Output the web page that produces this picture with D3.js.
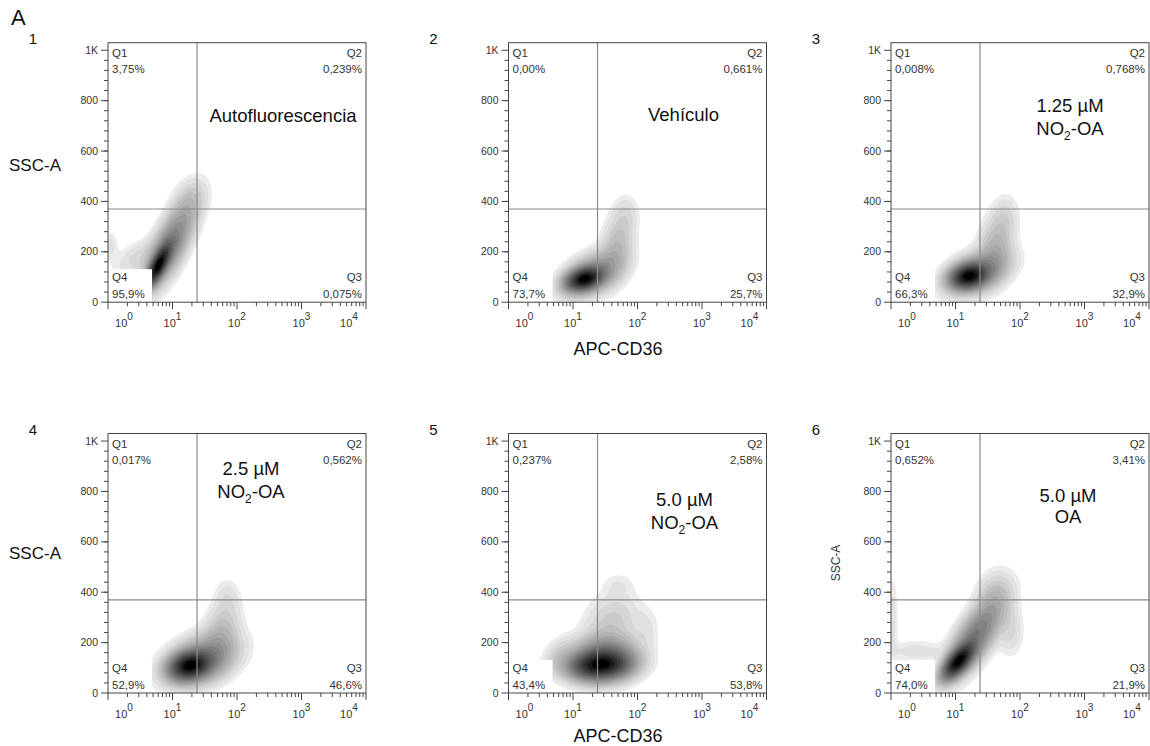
<!DOCTYPE html>
<html>
<head>
<meta charset="utf-8">
<script src="https://cdnjs.cloudflare.com/ajax/libs/d3/7.8.5/d3.min.js"></script>
<style>
body { margin: 0; background: #fff; }
svg { font-family: Arial, "Liberation Sans", sans-serif; }
</style>
</head>
<body>
<svg id="chart" width="1150" height="746"></svg>
<script>
// ---- data ----
const panelNames = ["1", "2", "3", "4", "5", "6"]
const treatments = [["Autofluorescencia"], ["Vehículo"], ["1.25 µM", "NO2-OA"], ["2.5 µM", "NO2-OA"], ["5.0 µM", "NO2-OA"], ["5.0 µM", "OA"]]
const q1Values = ["3,75%", "0,00%", "0,008%", "0,017%", "0,237%", "0,652%"]
const q2Values = ["0,239%", "0,661%", "0,768%", "0,562%", "2,58%", "3,41%"]
const q3Values = ["0,075%", "25,7%", "32,9%", "46,6%", "53,8%", "21,9%"]
const q4Values = ["95,9%", "73,7%", "66,3%", "52,9%", "43,4%", "74,0%"]

const gateApc = 24
const gateSsc = 370

const sscTicks = [0, 200, 400, 600, 800, 1000]
const sscTickLabels = ["0", "200", "400", "600", "800", "1K"]
const apcTicks = [1, 10, 100, 1000, 10000]
const apcTickExp = ["0", "1", "2", "3", "4"]

// density populations: [APC, SSC, sd (decades), sd (SSC), correlation, weight]
const blobs1 = [[6, 145, 0.11, 48, 0.75, 1], [8.9, 220, 0.22, 95, 0.72, 0.3], [17.8, 395, 0.16, 55, 0.3, 0.05], [1.1, 225, 0.07, 35, 0, 0.02], [2.8, 175, 0.22, 45, 0.5, 0.03]]
const blobs2 = [[15, 92, 0.16, 26, 0.3, 1], [20, 110, 0.26, 50, 0.45, 0.25], [48, 220, 0.15, 80, 0.3, 0.08], [66, 350, 0.12, 45, 0, 0.02]]
const blobs3 = [[16, 103, 0.16, 28, 0.2, 1], [22, 118, 0.27, 48, 0.4, 0.27], [42, 220, 0.16, 80, 0.3, 0.1], [60, 350, 0.12, 45, 0, 0.02]]
const blobs4 = [[18.5, 108, 0.18, 32, 0.2, 1], [28, 130, 0.3, 55, 0.35, 0.3], [56, 230, 0.17, 75, 0.3, 0.08], [70, 380, 0.12, 45, 0, 0.02]]
const blobs5 = [[26, 110, 0.27, 32, 0.1, 1], [30, 135, 0.28, 50, 0.1, 0.5], [40, 280, 0.25, 70, 0.2, 0.06], [140, 250, 0.12, 55, 0, 0.02], [6.3, 150, 0.15, 40, 0.3, 0.05], [50, 430, 0.15, 30, 0, 0.015]]
const blobs6 = [[11, 125, 0.14, 40, 0.65, 1], [20, 220, 0.24, 85, 0.7, 0.3], [40, 380, 0.17, 60, 0.2, 0.06], [71, 250, 0.12, 60, 0, 0.03], [2.5, 165, 0.3, 28, 0, 0.02], [1.07, 300, 0.05, 100, 0, 0.02]]
const allBlobs = [blobs1, blobs2, blobs3, blobs4, blobs5, blobs6]

// ---- layout ----
const colLeft = [108, 508.5, 891]
const rowTop = [42.7, 433.5]
const plotW = 258
const plotH = 259.5
// [center offset x, baseline line 1, baseline line 2] relative to the frame
const noteLayout = [[175, 79, 0], [175, 78, 0], [179, 69, 92], [143, 41, 64], [176, 72, 95], [177, 68, 89]]
const levelFractions = [0.006, 0.012, 0.022, 0.035, 0.05, 0.07, 0.095, 0.125, 0.16, 0.2, 0.25, 0.31, 0.38, 0.46, 0.55, 0.65, 0.76, 0.88]

const svg = d3.select("#chart")

const x = d3.scaleLog().domain([1, 10000]).range([0, plotW])
const y = d3.scaleLinear().domain([0, 1030]).range([plotH, 0])

// light grey for the outer level down to black at the peak
const grey = i => {
    const t = i / (levelFractions.length - 1)
    const v = Math.round(236 * Math.pow(1 - t, 0.8))
    return d3.rgb(v, v, v).formatHex()
}

function densityGrid(blobs) {
    const nx = Math.round(plotW), ny = Math.round(plotH)
    const values = new Float64Array(nx * ny)
    const pre = blobs.map(b => [Math.log10(b[0]), b[1], b[2], b[3], b[4], b[5]])
    for (let j = 0; j < ny; j++) {
        const ssc = y.invert(j + 0.5)
        for (let i = 0; i < nx; i++) {
            const lx = Math.log10(x.invert(i + 0.5))
            let v = 0
            for (const b of pre) {
                const dx = (lx - b[0]) / b[2]
                const dy = (ssc - b[1]) / b[3]
                const q = (dx * dx - 2 * b[4] * dx * dy + dy * dy) / (1 - b[4] * b[4])
                v += b[5] * Math.exp(-0.5 * q)
            }
            values[j * nx + i] = v
        }
    }
    return {nx, ny, values}
}

function drawPanel(k) {
    const left = colLeft[k % 3]
    const top = rowTop[Math.floor(k / 3)]
    const g = svg.append("g").attr("transform", "translate(" + left + "," + top + ")")

    g.append("clipPath").attr("id", "clip" + k)
        .append("rect").attr("width", plotW).attr("height", plotH)

    // density contours
    const grid = densityGrid(allBlobs[k])
    const maxV = d3.max(grid.values)
    const contours = d3.contours()
        .size([grid.nx, grid.ny])
        .thresholds(levelFractions.map(f => f * maxV))(grid.values)
    g.append("g").attr("clip-path", "url(#clip" + k + ")")
        .selectAll("path")
        .data(contours)
        .join("path")
        .attr("d", d3.geoPath())
        .attr("fill", (d, i) => grey(i))

    // white boxes behind quadrant labels
    const boxes = [[0, 0], [plotW - 44, 0], [plotW - 44, plotH - 33], [0, plotH - 33]]
    g.selectAll(".qbox").data(boxes).join("rect")
        .attr("class", "qbox")
        .attr("x", d => d[0]).attr("y", d => d[1])
        .attr("width", 44).attr("height", 33)
        .attr("fill", "#fff")

    // gates
    g.append("line")
        .attr("x1", x(gateApc)).attr("x2", x(gateApc))
        .attr("y1", 0).attr("y2", plotH)
        .attr("stroke", "#8a8a8a").attr("stroke-width", 1.2)
    g.append("line")
        .attr("x1", 0).attr("x2", plotW)
        .attr("y1", y(gateSsc)).attr("y2", y(gateSsc))
        .attr("stroke", "#8a8a8a").attr("stroke-width", 1.2)

    // frame
    g.append("rect")
        .attr("width", plotW).attr("height", plotH)
        .attr("fill", "none").attr("stroke", "#444").attr("stroke-width", 1)

    // y axis
    const yAxis = g.append("g")
    yAxis.selectAll(".minor").data(d3.range(40, 1000, 40)).join("line")
        .attr("x1", -4).attr("x2", 0)
        .attr("y1", d => y(d)).attr("y2", d => y(d))
        .attr("stroke", "#444")
    yAxis.selectAll(".major").data(sscTicks).join("line")
        .attr("x1", -7).attr("x2", 0)
        .attr("y1", d => y(d)).attr("y2", d => y(d))
        .attr("stroke", "#444")
    yAxis.selectAll("text").data(sscTicks).join("text")
        .attr("x", -10).attr("y", d => y(d) + 3.5)
        .attr("text-anchor", "end")
        .attr("font-size", 10.5).attr("fill", "#333")
        .text((d, i) => sscTickLabels[i])

    // x axis
    const xAxis = g.append("g").attr("transform", "translate(0," + plotH + ")")
    const minors = []
    for (let e = 0; e < 4; e++) {
        for (let m = 2; m < 10; m++) minors.push(m * Math.pow(10, e))
    }
    xAxis.selectAll(".minor").data(minors).join("line")
        .attr("x1", d => x(d)).attr("x2", d => x(d))
        .attr("y1", 0).attr("y2", 4)
        .attr("stroke", "#444")
    xAxis.selectAll(".major").data(apcTicks).join("line")
        .attr("x1", d => x(d)).attr("x2", d => x(d))
        .attr("y1", 0).attr("y2", 7)
        .attr("stroke", "#444")
    const xl = xAxis.selectAll("text").data(apcTicks).join("text")
        .attr("x", d => Math.min(Math.max(x(d), 16), plotW - 17))
        .attr("y", 25)
        .attr("text-anchor", "middle")
        .attr("font-size", 11).attr("fill", "#333")
    xl.append("tspan").text("10")
    xl.append("tspan").attr("dy", -7).attr("font-size", 10).text((d, i) => apcTickExp[i])

    // quadrant labels
    const ql = [
        ["Q1", q1Values[k], 4, 14, "start"],
        ["Q2", q2Values[k], plotW - 4, 14, "end"],
        ["Q3", q3Values[k], plotW - 4, plotH - 21, "end"],
        ["Q4", q4Values[k], 4, plotH - 21, "start"]
    ]
    ql.forEach(q => {
        g.append("text").attr("x", q[2]).attr("y", q[3])
            .attr("text-anchor", q[4]).attr("font-size", 11.5).attr("fill", "#333")
            .text(q[0])
        g.append("text").attr("x", q[2]).attr("y", q[3] + 16.5)
            .attr("text-anchor", q[4]).attr("font-size", 11.5).attr("fill", "#333")
            .text(q[1])
    })

    // treatment note
    const lay = noteLayout[k]
    treatments[k].forEach((line, i) => {
        const t = g.append("text")
            .attr("x", lay[0]).attr("y", lay[1 + i])
            .attr("text-anchor", "middle")
            .attr("font-size", 18.5).attr("fill", "#111")
        if (line.startsWith("NO2")) {
            t.append("tspan").text("NO")
            t.append("tspan").attr("dy", 5).attr("font-size", 12).text("2")
            t.append("tspan").attr("dy", -5).text(line.slice(3))
        } else {
            t.text(line)
        }
    })

    // panel number
    svg.append("text")
        .attr("x", left - 75).attr("y", top + 1)
        .attr("text-anchor", "middle")
        .attr("font-size", 15).attr("fill", "#111")
        .text(panelNames[k])
}

d3.range(6).forEach(drawPanel)

// figure letter and axis titles
svg.append("text").attr("x", 11).attr("y", 25)
    .attr("font-size", 22).attr("fill", "#111").text("A")

svg.selectAll(".ssc").data([171, 559]).join("text")
    .attr("x", 35).attr("y", d => d)
    .attr("text-anchor", "middle").attr("font-size", 17).attr("fill", "#111")
    .text("SSC-A")

svg.append("text")
    .attr("transform", "translate(" + 840 + "," + 563 + ")rotate(-90)")
    .attr("text-anchor", "middle").attr("font-size", 12).attr("fill", "#333")
    .text("SSC-A")

svg.selectAll(".apc").data([355, 742]).join("text")
    .attr("x", 618).attr("y", d => d)
    .attr("text-anchor", "middle").attr("font-size", 18).attr("fill", "#111")
    .text("APC-CD36")
</script>
</body>
</html>
